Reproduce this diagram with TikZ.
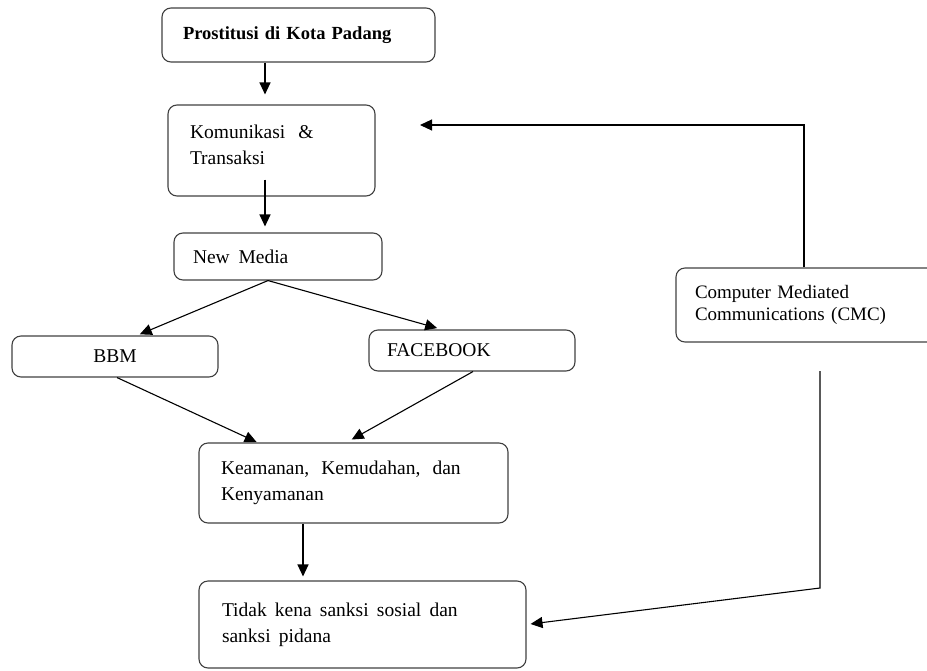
\documentclass[tikz,border=0pt]{standalone}
\usepackage{fontspec}
\setmainfont{Liberation Serif}
\usetikzlibrary{arrows.meta}

\tikzset{
  kotak/.style={draw=black!75, line width=1.1pt, rounded corners=9pt, align=left, inner ysep=0pt,
    font=\fontsize{19.5}{26}\selectfont},
  panah/.style={draw=black, line width=1.1pt, -{Triangle[length=12pt,width=11pt]}}
}

\begin{document}
\begin{tikzpicture}[x=1pt,y=1pt,yscale=-1]
\useasboundingbox (0,0) rectangle (927,670);
\clip (0,0) rectangle (927,670);

%Shape: Rounded Rect
\node [kotak, text width=231pt, inner xsep=21pt, minimum height=54pt, font=\fontsize{18.5}{24}\selectfont\bfseries] (prostitusi) at (298.5,35) {Prostitusi di Kota Padang};
%Shape: Rounded Rect
\node [kotak, text width=163pt, inner xsep=22pt, minimum height=91pt] (komunikasi) at (271.5,150.5) {Komunikasi~~\&\\Transaksi\rule[-12pt]{0pt}{12pt}};
%Shape: Rounded Rect
\node [kotak, text width=170pt, inner xsep=19pt, minimum height=47pt] (newmedia) at (278,256.5) {New\hspace{0.45em}Media};
%Shape: Rounded Rect
\node [kotak, text width=166pt, inner xsep=20pt, minimum height=41pt, align=center] (bbm) at (115,356.5) {BBM};
%Shape: Rounded Rect
\node [kotak, text width=170pt, inner xsep=18pt, minimum height=41pt] (facebook) at (472,350.5) {FACEBOOK};
%Shape: Rounded Rect
\node [kotak, text width=232pt, inner xsep=19pt, minimum height=74pt, font=\fontsize{19}{22}\selectfont] (cmc) at (811,305) {Computer Mediated\\Communications (CMC)};
%Shape: Rounded Rect
\node [kotak, text width=265pt, inner xsep=22pt, minimum height=80pt] (keamanan) at (353.5,483) {Keamanan,\hspace{0.62em}Kemudahan,\hspace{0.62em}dan\\Kenyamanan};
%Shape: Rounded Rect
\node [kotak, text width=281pt, inner xsep=23pt, minimum height=87pt] (tidak) at (362.5,624.5) {Tidak\hspace{0.42em}kena\hspace{0.42em}sanksi\hspace{0.42em}sosial\hspace{0.42em}dan\\sanksi\hspace{0.42em}pidana};

\coordinate (ujungatas) at (420,125);
\coordinate (mulaibawah) at (820,371);
\coordinate (belokbawah) at (820,588);

%Straight Lines
\draw [panah, shorten >=10pt] ([xshift=-33.5pt]prostitusi.south) -- ([xshift=-6.5pt]komunikasi.north);
%Straight Lines
\draw [panah, shorten <=-17pt, shorten >=6pt] ([xshift=-6.5pt]komunikasi.south) -- ([xshift=-13pt]newmedia.north);
%Straight Lines
\draw [panah, shorten >=3pt] ([xshift=-10pt]newmedia.south) -- ([xshift=22pt]bbm.north);
%Straight Lines
\draw [panah, shorten >=5pt] ([xshift=-10pt]newmedia.south) -- ([xshift=-30pt]facebook.north);
%Straight Lines
\draw [panah, shorten >=1pt] ([xshift=2pt]bbm.south) -- ([xshift=-96pt]keamanan.north);
%Straight Lines
\draw [panah, shorten >=6pt] ([xshift=1pt]facebook.south) -- ([xshift=-7pt]keamanan.north);
%Straight Lines
\draw [panah, shorten >=4pt] ([xshift=-50.5pt]keamanan.south) -- ([xshift=-59.5pt]tidak.north);
%Elbow Lines
\draw [panah] ([xshift=-7pt]cmc.north) |- (ujungatas);
%Elbow Lines
\draw [panah, shorten >=4pt] (mulaibawah) -- (belokbawah) -- (tidak.east);

\end{tikzpicture}
\end{document}
